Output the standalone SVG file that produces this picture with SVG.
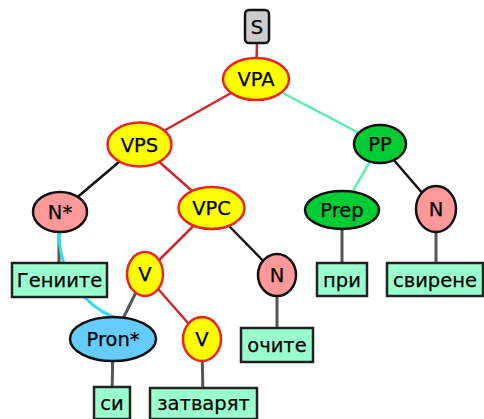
<svg xmlns="http://www.w3.org/2000/svg" width="484" height="419" viewBox="0 0 484 419">
<style>
text{font-family:"DejaVu Sans",Verdana,sans-serif;font-size:19.5px;fill:#000;text-anchor:middle;stroke:#000;stroke-width:0.25}
.y{fill:#ffff00;stroke:#ee2222;stroke-width:2.5}
.p{fill:#ff9999;stroke:#111;stroke-width:2.5}
.g{fill:#00cc33;stroke:#111;stroke-width:2.5}
.b{fill:#66ccff;stroke:#111;stroke-width:2.5}
.w{fill:#99ffcc;stroke:#222;stroke-width:2.5}
.s{fill:#cccccc;stroke:#111;stroke-width:2.5}
.lr{stroke:#cc2a2a;stroke-width:2.5;fill:none}
.la{stroke:#55eeaa;stroke-width:2.5;fill:none}
.lk{stroke:#111;stroke-width:2.5;fill:none}
.lg{stroke:#555;stroke-width:3;fill:none}
.lc{stroke:#33ddee;stroke-width:3;fill:none}
</style>
<g id="connectors">
<line class="lr" x1="257" y1="43" x2="256" y2="79"/>
<line class="lr" x1="256" y1="79" x2="139.5" y2="144.5"/>
<line class="la" x1="256" y1="79" x2="380" y2="144"/>
<line class="lk" x1="139.5" y1="144.5" x2="60" y2="212"/>
<line class="lr" x1="139.5" y1="144.5" x2="211.5" y2="208"/>
<line class="lr" x1="211.5" y1="208" x2="145" y2="274"/>
<line class="lk" x1="211.5" y1="208" x2="277" y2="275"/>
<line class="lr" x1="145" y1="274" x2="202" y2="339"/>
<line class="lg" x1="145" y1="274" x2="113" y2="339"/>
<line class="lg" x1="59" y1="212" x2="59" y2="280"/>
<path class="lc" d="M59,232 C59,275 85,305 113,317"/>
<line class="lg" x1="113" y1="339" x2="112" y2="400"/>
<line class="lg" x1="202" y1="339" x2="203" y2="400"/>
<line class="lg" x1="277" y1="275" x2="277" y2="345"/>
<line class="la" x1="380" y1="144" x2="342" y2="210"/>
<line class="lk" x1="380" y1="144" x2="436" y2="209"/>
<line class="lg" x1="342" y1="210" x2="342" y2="280"/>
<line class="lg" x1="436" y1="209" x2="436" y2="280"/>
</g>
<g id="S"><rect class="s" x="245" y="10" width="24" height="33" rx="4"/><text x="257" y="33.5">S</text></g>
<g id="VPA"><ellipse class="y" cx="256" cy="79" rx="33" ry="21"/><text x="256" y="86">VPA</text></g>
<g id="VPS"><ellipse class="y" cx="139.5" cy="144.5" rx="32" ry="22"/><text x="139.5" y="151.5">VPS</text></g>
<g id="VPC"><ellipse class="y" cx="211.5" cy="208" rx="33" ry="21"/><text x="211.5" y="215">VPC</text></g>
<g id="PP"><ellipse class="g" cx="380" cy="144" rx="26" ry="19"/><text x="380" y="151">PP</text></g>
<g id="Prep"><ellipse class="g" cx="342" cy="210" rx="37" ry="19"/><text x="342" y="217">Prep</text></g>
<g id="N3"><ellipse class="p" cx="436" cy="209" rx="20" ry="23"/><text x="436" y="216">N</text></g>
<g id="Nstar"><ellipse class="p" cx="60" cy="212" rx="27" ry="20"/><text x="60" y="219">N*</text></g>
<g id="V1"><ellipse class="y" cx="145" cy="274" rx="18" ry="22"/><text x="145" y="281">V</text></g>
<g id="N2"><ellipse class="p" cx="277" cy="275" rx="19" ry="21"/><text x="277" y="282">N</text></g>
<g id="Pron"><ellipse class="b" cx="113" cy="339" rx="43" ry="22"/><text x="113" y="346">Pron*</text></g>
<g id="V2"><ellipse class="y" cx="202" cy="339" rx="19" ry="22"/><text x="202" y="346">V</text></g>
<g id="w-geniite"><rect class="w" x="12" y="263" width="95" height="34"/><text x="59.5" y="287">Гениите</text></g>
<g id="w-pri"><rect class="w" x="317" y="263" width="50" height="33"/><text x="342" y="286.5">при</text></g>
<g id="w-svirene"><rect class="w" x="387" y="263" width="96" height="33"/><text x="435" y="286.5">свирене</text></g>
<g id="w-ochite"><rect class="w" x="241" y="328" width="72" height="34"/><text x="277" y="352">очите</text></g>
<g id="w-si"><rect class="w" x="94" y="387" width="36" height="32"/><text x="112" y="410">си</text></g>
<g id="w-zatvarjat"><rect class="w" x="150" y="388" width="107" height="31"/><text x="203.5" y="410">затварят</text></g>
</svg>
